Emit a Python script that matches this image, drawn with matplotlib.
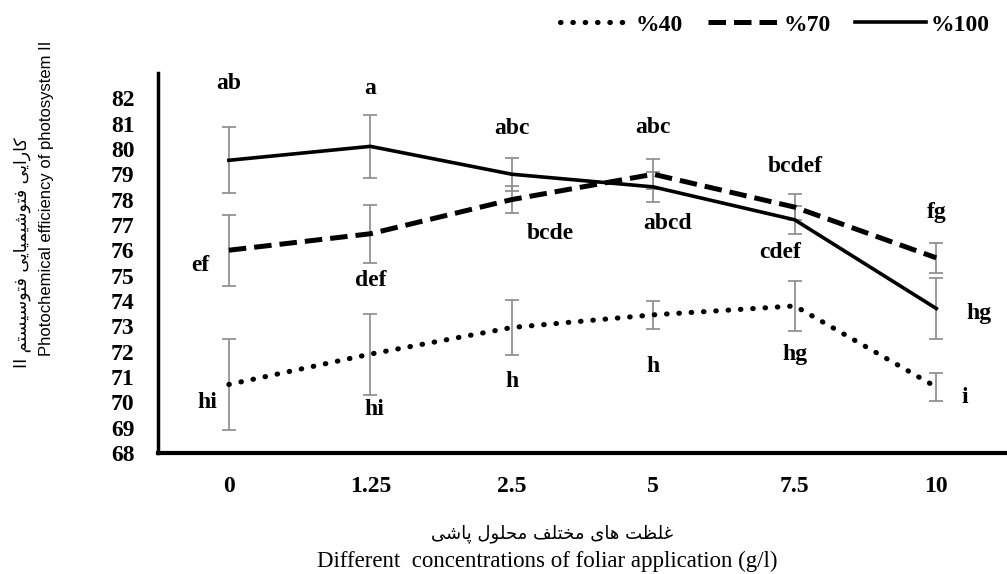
import matplotlib
matplotlib.use('Agg')
import matplotlib.pyplot as plt
import numpy as np

plt.rcParams['font.family'] = ['Liberation Serif', 'DejaVu Sans']

# concentrations (g/l)
conc = ['0', '1.25', '2.5', '5', '7.5', '10']

# photochemical efficiency, per irrigation level
eff_40 = [70.7, 71.9, 72.95, 73.45, 73.8, 70.6]
eff_70 = [76.0, 76.65, 78.0, 79.0, 77.7, 75.7]
eff_100 = [79.55, 80.1, 79.0, 78.5, 77.2, 73.7]

err_40 = [1.8, 1.6, 1.1, 0.55, 1.0, 0.55]
err_70 = [1.4, 1.15, 0.55, 0.6, 0.5, 0.6]
err_100 = [1.3, 1.25, 0.65, 0.6, 0.55, 1.2]

# mean comparison letters
let_40 = ['hi', 'hi', 'h', 'h', 'hg', 'i']
let_70 = ['ef', 'def', 'bcde', 'abc', 'bcdef', 'fg']
let_100 = ['ab', 'a', 'abc', 'abcd', 'cdef', 'hg']

# letter placement (x shift in categories, y in data units)
let_40_pos = [(-0.15, 70.0), (0.03, 69.7), (0.0, 70.8), (0.0, 71.4), (0.0, 71.9), (0.2, 70.2)]
let_70_pos = [(-0.2, 75.4), (0.0, 74.8), (0.27, 76.65), (0.0, 80.85), (0.0, 79.3), (0.0, 77.5)]
let_100_pos = [(0.0, 82.6), (0.0, 82.4), (0.0, 80.8), (0.1, 77.05), (-0.1, 75.9), (0.3, 73.5)]

y_ticks = list(range(68, 83))

ylabel_fa = 'کارایی فتوشیمیایی فتوسیستم'
ylabel_en = 'Photochemical efficiency of photosystem II'
xlabel_fa = 'غلظت های مختلف محلول پاشی'
xlabel_en = 'Different  concentrations of foliar application (g/l)'

# arabic presentation forms: isolated, final, initial, medial
FORMS = {
    'ک': ('\uFB8E', '\uFB8F', '\uFB90', '\uFB91'),
    'ا': ('\uFE8D', '\uFE8E', None, None),
    'ر': ('\uFEAD', '\uFEAE', None, None),
    'و': ('\uFEED', '\uFEEE', None, None),
    'ی': ('\uFBFC', '\uFBFD', '\uFBFE', '\uFBFF'),
    'ف': ('\uFED1', '\uFED2', '\uFED3', '\uFED4'),
    'ت': ('\uFE95', '\uFE96', '\uFE97', '\uFE98'),
    'ش': ('\uFEB5', '\uFEB6', '\uFEB7', '\uFEB8'),
    'م': ('\uFEE1', '\uFEE2', '\uFEE3', '\uFEE4'),
    'س': ('\uFEB1', '\uFEB2', '\uFEB3', '\uFEB4'),
    'غ': ('\uFECD', '\uFECE', '\uFECF', '\uFED0'),
    'ل': ('\uFEDD', '\uFEDE', '\uFEDF', '\uFEE0'),
    'ظ': ('\uFEC5', '\uFEC6', '\uFEC7', '\uFEC8'),
    'ه': ('\uFEE9', '\uFEEA', '\uFEEB', '\uFEEC'),
    'خ': ('\uFEA5', '\uFEA6', '\uFEA7', '\uFEA8'),
    'ح': ('\uFEA1', '\uFEA2', '\uFEA3', '\uFEA4'),
    'پ': ('\uFB56', '\uFB57', '\uFB58', '\uFB59'),
}


def shape_fa(text):
    # join letters and reverse for right-to-left display
    out = []
    for i, ch in enumerate(text):
        if ch not in FORMS:
            out.append(ch)
            continue
        prev = text[i - 1] if i > 0 else ''
        nxt = text[i + 1] if i + 1 < len(text) else ''
        pj = prev in FORMS and FORMS[prev][2] is not None
        nj = FORMS[ch][2] is not None and nxt in FORMS
        iso, fin, ini, med = FORMS[ch]
        if pj and nj:
            out.append(med)
        elif pj:
            out.append(fin)
        elif nj:
            out.append(ini)
        else:
            out.append(iso)
    return ''.join(out)[::-1]


fig = plt.figure(figsize=(10.07, 5.74), dpi=100)
ax = fig.add_axes([0.157, 0.211, 0.843, 0.662])

x = np.arange(len(conc))
ecol = '#8a8a8a'

for vals, errs in [(eff_40, err_40), (eff_70, err_70), (eff_100, err_100)]:
    ax.errorbar(x, vals, yerr=errs, fmt='none', ecolor=ecol, elinewidth=1.2,
                capsize=5, capthick=1.2, zorder=1)

l40, = ax.plot(x, eff_40, color='black', lw=3.7, linestyle=(0, (0.1, 2.3)), dash_capstyle='round', zorder=3)
l70, = ax.plot(x, eff_70, color='black', lw=3.6, linestyle=(0, (3.5, 1.6)), dash_capstyle='butt', zorder=3)
l100, = ax.plot(x, eff_100, color='black', lw=2.6, linestyle='-', zorder=3)

for labels, pos in [(let_40, let_40_pos), (let_70, let_70_pos), (let_100, let_100_pos)]:
    for i, (lab, (dx, yy)) in enumerate(zip(labels, pos)):
        ax.text(i + dx, yy, lab, ha='center', va='center', fontsize=17, fontweight='bold')

ax.set_xlim(-0.5, 5.5)
ax.set_ylim(68, 83)
ax.set_yticks(y_ticks)
ax.set_xticks(x)
ax.set_xticklabels(conc)
ax.tick_params(axis='both', length=0, labelsize=17)
ax.tick_params(axis='y', pad=17)
ax.tick_params(axis='x', pad=17)
for t in ax.get_xticklabels() + ax.get_yticklabels():
    t.set_fontweight('bold')

for s in ['top', 'right']:
    ax.spines[s].set_visible(False)
ax.spines['left'].set_linewidth(2.5)
ax.spines['bottom'].set_linewidth(3)

fig.legend([l40, l70, l100], ['%40', '%70', '%100'], loc='upper right', bbox_to_anchor=(0.997, 1.0),
           ncol=3, frameon=False, handlelength=3.0, handletextpad=0.2, columnspacing=1.05,
           borderaxespad=0.2, prop={'family': 'Liberation Serif', 'weight': 'bold', 'size': 17})

fig.text(0.022, 0.56, 'II ' + shape_fa(ylabel_fa), rotation=90, ha='center', va='center',
         fontsize=12.5, family=['DejaVu Sans'])
fig.text(0.046, 0.655, ylabel_en, rotation=90, ha='center', va='center', fontsize=12,
         family=['Liberation Sans'])
fig.text(0.548, 0.071, shape_fa(xlabel_fa), ha='center', va='center', fontsize=13, family=['DejaVu Sans'])
fig.text(0.543, 0.022, xlabel_en, ha='center', va='center', fontsize=16.5)

fig.savefig('out.png', dpi=100)
